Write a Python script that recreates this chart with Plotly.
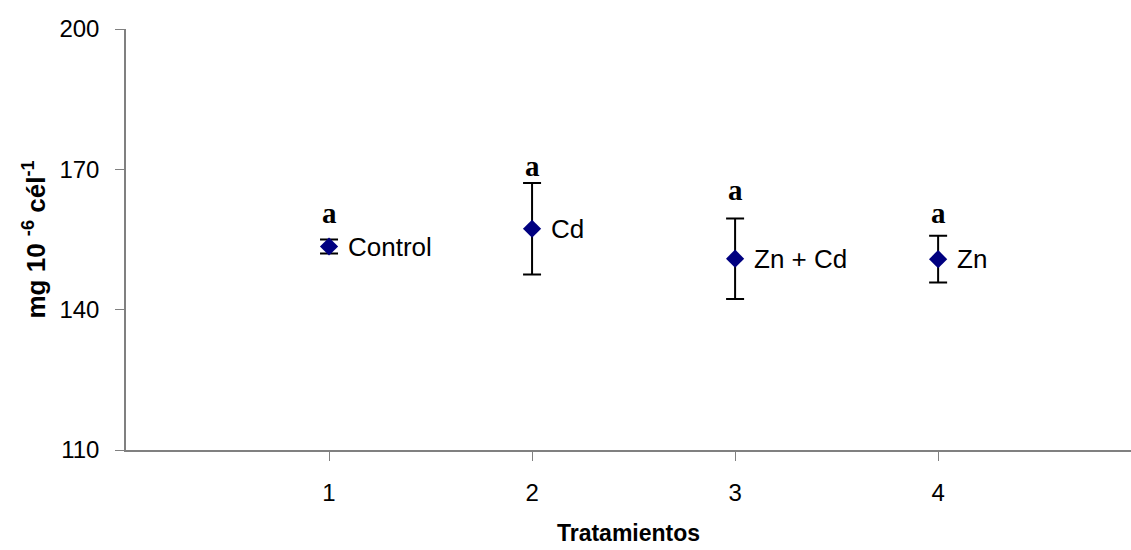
import plotly.graph_objects as go

# Data
treatments = [1, 2, 3, 4]
labels = ["Control", "Cd", "Zn + Cd", "Zn"]
means = [153.5, 157.3, 150.9, 150.8]
errors = [1.5, 9.8, 8.6, 5.0]
letters = ["a", "a", "a", "a"]
letter_y = [160.7, 170.7, 165.6, 160.7]
y_ticks = [110, 140, 170, 200]
x_ticks = [1, 2, 3, 4]

fig = go.Figure()
fig.add_trace(go.Scatter(
    x=treatments, y=means, mode="markers",
    marker=dict(symbol="diamond", size=14, color="#000080",
                line=dict(width=0)),
    error_y=dict(type="data", array=errors, visible=True,
                 color="black", thickness=2, width=9),
    showlegend=False,
))

for xv, yv, lab in zip(treatments, means, labels):
    fig.add_annotation(x=xv, y=yv, text=lab, showarrow=False,
                       xanchor="left", yanchor="middle", xshift=17,
                       font=dict(family="Arial, Liberation Sans", size=26, color="black"))

for xv, yv, lt in zip(treatments, letter_y, letters):
    fig.add_annotation(x=xv, y=yv, text="<b>" + lt + "</b>", showarrow=False,
                       xanchor="center", yanchor="middle",
                       font=dict(family="Times New Roman, Liberation Serif", size=29, color="black"))

fig.add_annotation(xref="paper", yref="paper", x=(35 - 126) / 1005, y=0.5,
                   text="<b>mg 10 <sup>-6</sup> cél<sup>-1</sup></b>", textangle=-90,
                   showarrow=False, xanchor="center", yanchor="middle",
                   font=dict(family="Arial, Liberation Sans", size=26, color="black"))

fig.update_layout(
    width=1131, height=550,
    margin=dict(l=126, r=0, t=29, b=100),
    paper_bgcolor="white", plot_bgcolor="white",
    xaxis=dict(range=[0, 4.95], tickvals=x_ticks, ticks="outside", ticklen=9,
               tickcolor="#808080", showline=True, linecolor="#808080", linewidth=1.5,
               showgrid=False, zeroline=False, ticklabelstandoff=11,
               tickfont=dict(family="Arial, Liberation Sans", size=24, color="black"),
               title=dict(text="<b>Tratamientos</b>", standoff=20,
                          font=dict(family="Arial, Liberation Sans", size=23, color="black"))),
    yaxis=dict(range=[110, 200], tickvals=y_ticks, ticks="outside", ticklen=9,
               tickcolor="#808080", showline=True, linecolor="#808080", linewidth=1.5,
               showgrid=False, zeroline=False, ticklabelstandoff=11,
               tickfont=dict(family="Arial, Liberation Sans", size=24, color="black")),
)

fig.write_html("out.html")
